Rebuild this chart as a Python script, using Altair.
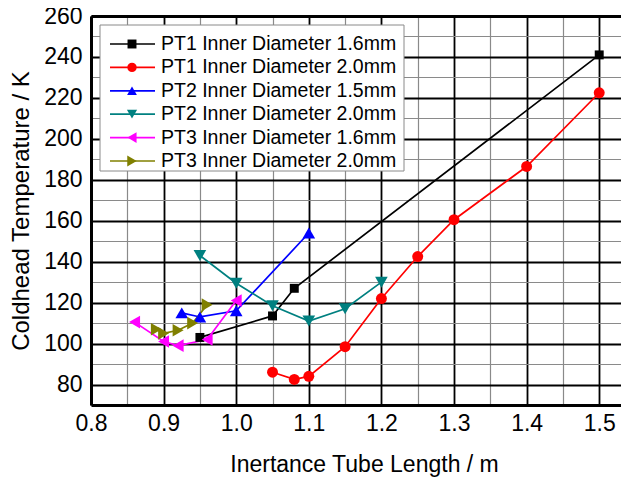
import altair as alt
import pandas as pd

# ---------------- data ----------------
series_names = [
    "PT1 Inner Diameter 1.6mm",
    "PT1 Inner Diameter 2.0mm",
    "PT2 Inner Diameter 1.5mm",
    "PT2 Inner Diameter 2.0mm",
    "PT3 Inner Diameter 1.6mm",
    "PT3 Inner Diameter 2.0mm",
]
series_colors = ["#000000", "#FF0000", "#0000FF", "#008080", "#FF00FF", "#808000"]
series_shapes = ["square", "circle", "triangle-up", "triangle-down", "triangle-left", "triangle-right"]
series_sizes = [80, 120, 160, 160, 160, 160]

pt1_16_x = [0.95, 1.05, 1.08, 1.50]
pt1_16_y = [103, 113.5, 127, 241]
pt1_20_x = [1.05, 1.08, 1.10, 1.15, 1.20, 1.25, 1.30, 1.40, 1.50]
pt1_20_y = [86, 82.5, 84, 98.5, 122, 142.5, 160.5, 186.5, 222.5]
pt2_15_x = [0.925, 0.95, 1.00, 1.10]
pt2_15_y = [115, 113, 116, 154]
pt2_20_x = [0.95, 1.00, 1.05, 1.10, 1.15, 1.20]
pt2_20_y = [143, 129.5, 118.5, 111, 117, 130]
pt3_16_x = [0.86, 0.90, 0.92, 0.96, 1.00]
pt3_16_y = [110.5, 101, 99, 102, 121]
pt3_20_x = [0.89, 0.90, 0.92, 0.94, 0.96]
pt3_20_y = [107, 105, 106.5, 110, 119]

x_ticks = [0.8, 0.85, 0.9, 0.95, 1.0, 1.05, 1.1, 1.15, 1.2, 1.25, 1.3, 1.35, 1.4, 1.45, 1.5]
y_ticks = [70, 80, 90, 100, 110, 120, 130, 140, 150, 160, 170, 180, 190, 200,
           210, 220, 230, 240, 250, 260]

all_x = [pt1_16_x, pt1_20_x, pt2_15_x, pt2_20_x, pt3_16_x, pt3_20_x]
all_y = [pt1_16_y, pt1_20_y, pt2_15_y, pt2_20_y, pt3_16_y, pt3_20_y]

rows = []
for name, xs, ys in zip(series_names, all_x, all_y):
    for xv, yv in zip(xs, ys):
        rows.append({"series": name, "x": xv, "y": yv})
df = pd.DataFrame(rows)
legend_df = pd.DataFrame({"series": series_names})

FONT = "Liberation Sans"

major_x = "abs(round(datum.value*20)) % 2 == 0"
major_y = "abs(round(datum.value)) % 20 == 0"

x_scale = alt.Scale(domain=[0.8, 1.53], nice=False, zero=False)
y_scale = alt.Scale(domain=[70, 260], nice=False, zero=False)

x_axis_bottom = alt.Axis(
    values=x_ticks,
    title="Inertance Tube Length / m",
    labelExpr=f"{major_x} ? format(datum.value, '.1f') : ''",
    grid=True,
    gridColor={"condition": {"test": major_x, "value": "#000000"}, "value": "#8a8a8a"},
    gridWidth={"condition": {"test": major_x, "value": 1.8}, "value": 1.2},
    ticks=False,
    domainColor="#000000",
    domainWidth=3,
    labelFontSize=23,
    labelColor="#000000",
    labelPadding=7,
    labelFlush=False,
    titleFontSize=23,
    titleColor="#000000",
    titlePadding=18,
    titleX=273,
)

x_axis_top = alt.Axis(
    orient="top",
    values=x_ticks,
    labels=False,
    grid=False,
    ticks=False,
    title=None,
    domainColor="#000000",
    domainWidth=3,
)

y_axis = alt.Axis(
    values=y_ticks,
    title="Coldhead Temperature / K",
    labelExpr=f"{major_y} ? datum.value : ''",
    grid=True,
    gridColor={"condition": {"test": major_y, "value": "#000000"}, "value": "#8a8a8a"},
    gridWidth={"condition": {"test": major_y, "value": 1.8}, "value": 1.2},
    ticks=False,
    domainColor="#000000",
    domainWidth=3,
    labelFontSize=23,
    labelColor="#000000",
    labelPadding=9,
    titleFontSize=24,
    titleColor="#000000",
    titlePadding=10,
)

color_scale = alt.Scale(domain=series_names, range=series_colors)

lines = alt.Chart(df).mark_line(strokeWidth=1.7, opacity=1).encode(
    x=alt.X("x:Q", scale=x_scale, axis=x_axis_bottom),
    y=alt.Y("y:Q", scale=y_scale, axis=y_axis),
    color=alt.Color("series:N", scale=color_scale, legend=None),
    detail="series:N",
)

point_layers = []
for i, (name, col, shp, sz) in enumerate(zip(series_names, series_colors, series_shapes, series_sizes)):
    layer = (
        alt.Chart(df)
        .transform_filter(alt.datum.series == name)
        .mark_point(filled=True, size=sz, opacity=1, shape=shp, color=col)
        .encode(
            x=alt.X("x:Q", scale=x_scale, axis=(x_axis_top if i == 0 else None)),
            y=alt.Y("y:Q", scale=y_scale, axis=None),
        )
    )
    point_layers.append(layer)

# ---------------- legend (drawn as a small layered key) ----------------
row_scale = alt.Scale(type="point", domain=series_names, range=[28, 145], padding=0)
legend_y = alt.Y("series:N", scale=row_scale, axis=None)

legend_box = alt.Chart(pd.DataFrame({"k": [0]})).mark_rect(
    fill="#ffffff", stroke="#8a8a8a", strokeWidth=1
).encode(
    x=alt.value(9), x2=alt.value(313), y=alt.value(9), y2=alt.value(155)
)

legend_lines = alt.Chart(legend_df).mark_rule(strokeWidth=1.7).encode(
    x=alt.value(19), x2=alt.value(64),
    y=legend_y,
    color=alt.Color("series:N", scale=color_scale, legend=None),
)

legend_marks = alt.Chart(legend_df).mark_point(filled=True, opacity=1).encode(
    x=alt.value(41),
    y=legend_y,
    color=alt.Color("series:N", scale=color_scale, legend=None),
    shape=alt.Shape("series:N", scale=alt.Scale(domain=series_names, range=series_shapes), legend=None),
    size=alt.Size("series:N", scale=alt.Scale(domain=series_names, range=series_sizes), legend=None),
)

legend_text = alt.Chart(legend_df).mark_text(
    align="left", baseline="middle", font=FONT, fontSize=19.5, color="#000000"
).encode(
    x=alt.value(70),
    y=legend_y,
    text="series:N",
)

chart = (
    alt.layer(lines, *point_layers, legend_box, legend_lines, legend_marks, legend_text)
    .resolve_axis(x="independent", y="independent")
    .resolve_scale(y="independent")
    .properties(
        width=530,
        height=389,
        autosize=alt.AutoSizeParams(type="none"),
        padding={"left": 83, "top": 8, "right": 0, "bottom": 72},
    )
    .configure_view(stroke=None)
    .configure_axis(labelFont=FONT, titleFont=FONT, titleFontWeight="normal")
)

chart.save("out.html", embed_options={"renderer": "svg", "actions": False})
